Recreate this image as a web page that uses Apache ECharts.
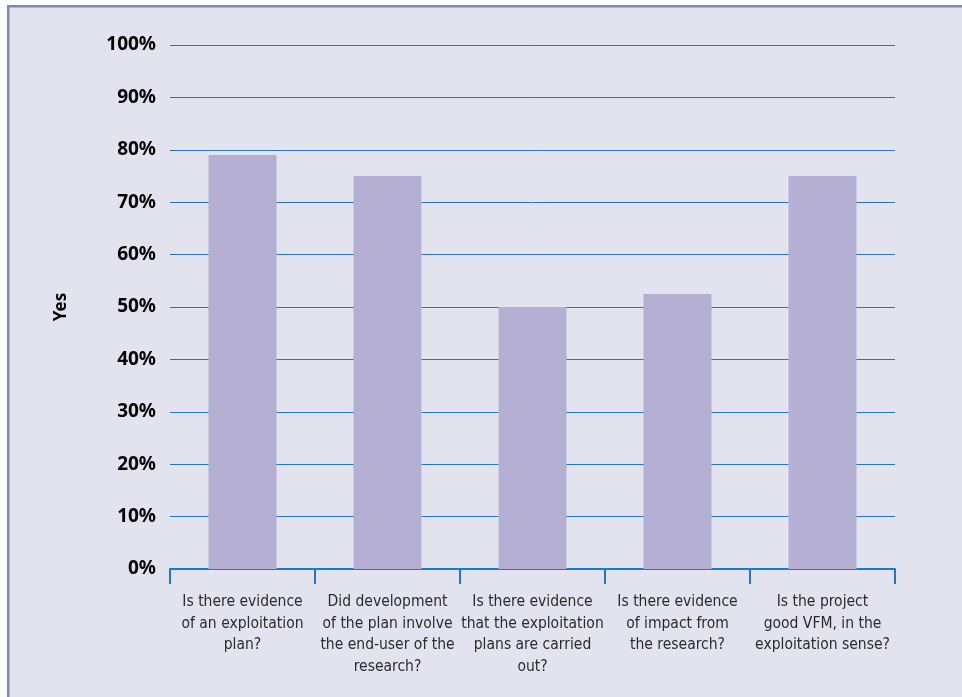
<!DOCTYPE html>
<html>
<head>
<meta charset="utf-8">
<script src="https://cdn.jsdelivr.net/npm/echarts@6/dist/echarts.min.js"></script>
<style>
html,body{margin:0;padding:0;background:#fff;}
#c{width:962px;height:697px;}
</style>
</head>
<body>
<div id="c"></div>
<script>
const categories = [
  "Is there evidence\nof an exploitation\nplan?",
  "Did development\nof the plan involve\nthe end-user of the\nresearch?",
  "Is there evidence\nthat the exploitation\nplans are carried\nout?",
  "Is there evidence\nof impact from\nthe research?",
  "Is the project\ngood VFM, in the\nexploitation sense?"
];
const yesValues = [79, 75, 50, 52.5, 75];
const yTicks = [0, 10, 20, 30, 40, 50, 60, 70, 80, 90, 100];

const chart = echarts.init(document.getElementById('c'), null, {renderer: 'canvas'});
chart.setOption({
  backgroundColor: '#ffffff',
  animation: false,
  graphic: [
    {type: 'rect', shape: {x: 7, y: 5, width: 960, height: 700}, style: {fill: '#e3e3f0'}, z: -10},
    {type: 'rect', shape: {x: 7, y: 5, width: 2.5, height: 700}, style: {fill: '#7b89b9'}, z: -9},
    {type: 'rect', shape: {x: 7, y: 5, width: 960, height: 2.5}, style: {fill: '#7b89b9'}, z: -9}
  ],
  grid: {left: 170, right: 67, top: 45, bottom: 128, containLabel: false},
  xAxis: {
    type: 'category',
    data: categories,
    axisLine: {show: true, lineStyle: {color: '#1f78c1', width: 2}},
    axisTick: {show: true, alignWithLabel: false, length: 15, lineStyle: {color: '#1f78c1', width: 2}},
    axisLabel: {
      interval: 0,
      margin: 22,
      color: '#2b2b2b',
      fontFamily: '"Liberation Sans Narrow", "DejaVu Sans Condensed", "Noto Sans", sans-serif',
      fontSize: 15.5,
      lineHeight: 21.7,
      align: 'center'
    },
    splitLine: {show: false}
  },
  yAxis: {
    type: 'value',
    min: 0,
    max: 100,
    interval: 10,
    name: 'Yes',
    nameLocation: 'middle',
    nameGap: 100,
    nameRotate: 90,
    nameTextStyle: {fontFamily: '"Noto Sans", sans-serif', fontWeight: 'bold', fontSize: 17, color: '#000'},
    axisLine: {show: false},
    axisTick: {show: false},
    axisLabel: {
      margin: 14,
      color: '#000',
      fontFamily: '"Noto Sans", sans-serif',
      fontWeight: 'bold',
      fontSize: 19,
      formatter: function (v) { return yTicks.indexOf(v) >= 0 ? v + '%' : ''; }
    },
    splitLine: {show: true, lineStyle: {color: '#1f78c1', width: 1}}
  },
  series: [{
    type: 'bar',
    data: yesValues,
    barWidth: 68,
    itemStyle: {color: '#b5afd4'},
    z: 3
  }]
});
</script>
</body>
</html>
